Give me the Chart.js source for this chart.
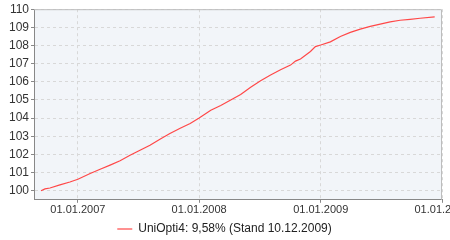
<!DOCTYPE html>
<html>
<head>
<meta charset="utf-8">
<script src="https://cdn.jsdelivr.net/npm/chart.js@4/dist/chart.umd.min.js"></script>
<style>
  html, body { margin: 0; padding: 0; background: #fff; overflow: hidden; }
  #wrap { width: 450px; height: 240px; }
</style>
</head>
<body>
<div id="wrap"><canvas id="chart" width="450" height="240"></canvas></div>
<script>
const seriesName = 'UniOpti4: 9,58% (Stand 10.12.2009)';
const dates = [
  '2006-09-12','2006-09-24','2006-10-09','2006-11-08','2006-12-08','2007-01-01',
  '2007-02-07','2007-03-09','2007-04-08','2007-05-08','2007-06-07','2007-07-07',
  '2007-08-06','2007-09-05','2007-10-05','2007-11-05','2007-12-05','2008-01-01',
  '2008-02-05','2008-03-06','2008-04-05','2008-05-05','2008-06-04','2008-07-04',
  '2008-08-03','2008-09-02','2008-10-02','2008-10-17','2008-11-01','2008-12-01',
  '2008-12-16','2009-01-01','2009-01-30','2009-03-01','2009-03-31','2009-04-30',
  '2009-05-30','2009-06-29','2009-07-29','2009-08-28','2009-09-27','2009-10-27',
  '2009-12-10'
];
const values = [
  100.0, 100.1, 100.15, 100.32, 100.48, 100.63,
  100.95, 101.18, 101.41, 101.65, 101.95, 102.23,
  102.5, 102.84, 103.15, 103.44, 103.7, 104.0,
  104.43, 104.69, 105.0, 105.3, 105.7, 106.06,
  106.37, 106.66, 106.92, 107.14, 107.26, 107.67,
  107.94, 108.03, 108.2, 108.5, 108.72, 108.9,
  109.05, 109.18, 109.3, 109.39, 109.44, 109.5,
  109.58
];
const xTickDates = ['2007-01-01', '2008-01-01', '2009-01-01', '2010-01-01'];
const yTicks = [100, 101, 102, 103, 104, 105, 106, 107, 108, 109, 110];
const xStart = '2006-08-22';

const t = s => Date.parse(s + 'T00:00:00Z');
const fmt = v => {
  const d = new Date(v);
  const p = n => String(n).padStart(2, '0');
  return p(d.getUTCDate()) + '.' + p(d.getUTCMonth() + 1) + '.' + d.getUTCFullYear();
};

const plotFrame = {
  id: 'plotFrame',
  beforeDraw(chart) {
    const { ctx, chartArea: a } = chart;
    ctx.save();
    ctx.fillStyle = '#f2f5f9';
    ctx.fillRect(a.left, a.top, a.right - a.left, a.bottom - a.top);
    ctx.restore();
  },
  afterDatasetsDraw(chart) {
    const { ctx, chartArea: a } = chart;
    ctx.save();
    ctx.strokeStyle = '#bdbdbd';
    ctx.lineWidth = 1;
    ctx.beginPath();
    ctx.moveTo(a.left, a.top + 0.5);
    ctx.lineTo(a.right - 0.5, a.top + 0.5);
    ctx.lineTo(a.right - 0.5, a.bottom);
    ctx.stroke();
    ctx.restore();
  }
};

const font = { family: '"Liberation Sans", Arial, sans-serif', size: 11 };
const bigFont = { family: '"Liberation Sans", Arial, sans-serif', size: 12 };

new Chart(document.getElementById('chart'), {
  type: 'line',
  data: {
    datasets: [{
      label: seriesName,
      data: dates.map((d, i) => ({ x: t(d), y: values[i] })),
      borderColor: '#ff4848',
      backgroundColor: '#ff4848',
      borderWidth: 1.2,
      pointRadius: 0,
      pointStyle: 'line',
      tension: 0
    }]
  },
  options: {
    responsive: false,
    animation: false,
    layout: { padding: { left: 7, right: 8, top: 5, bottom: -5 } },
    plugins: {
      tooltip: { enabled: false },
      legend: {
        position: 'bottom',
        labels: {
          font: bigFont,
          color: '#222',
          usePointStyle: true,
          pointStyleWidth: 15,
          boxHeight: 8,
          padding: 5
        }
      }
    },
    scales: {
      x: {
        type: 'linear',
        min: t(xStart),
        max: t(xTickDates[xTickDates.length - 1]),
        afterBuildTicks: s => { s.ticks = xTickDates.map(d => ({ value: t(d) })); },
        afterFit: s => { s.paddingRight = 0; s.paddingLeft = 0; },
        ticks: { font: font, color: '#333', padding: 1, maxRotation: 0, callback: v => fmt(v) },
        grid: { color: '#d8d8d8', tickColor: '#888', tickLength: 3 },
        border: { display: true, color: '#888', dash: [3, 3] }
      },
      y: {
        min: 99.5,
        max: 110,
        afterBuildTicks: s => { s.ticks = yTicks.map(v => ({ value: v })); },
        ticks: { font: bigFont, color: '#333', padding: 2 },
        grid: { color: '#d8d8d8', tickColor: '#888', tickLength: 3 },
        border: { display: true, color: '#888', dash: [3, 3] }
      }
    }
  },
  plugins: [plotFrame]
});
</script>
</body>
</html>
